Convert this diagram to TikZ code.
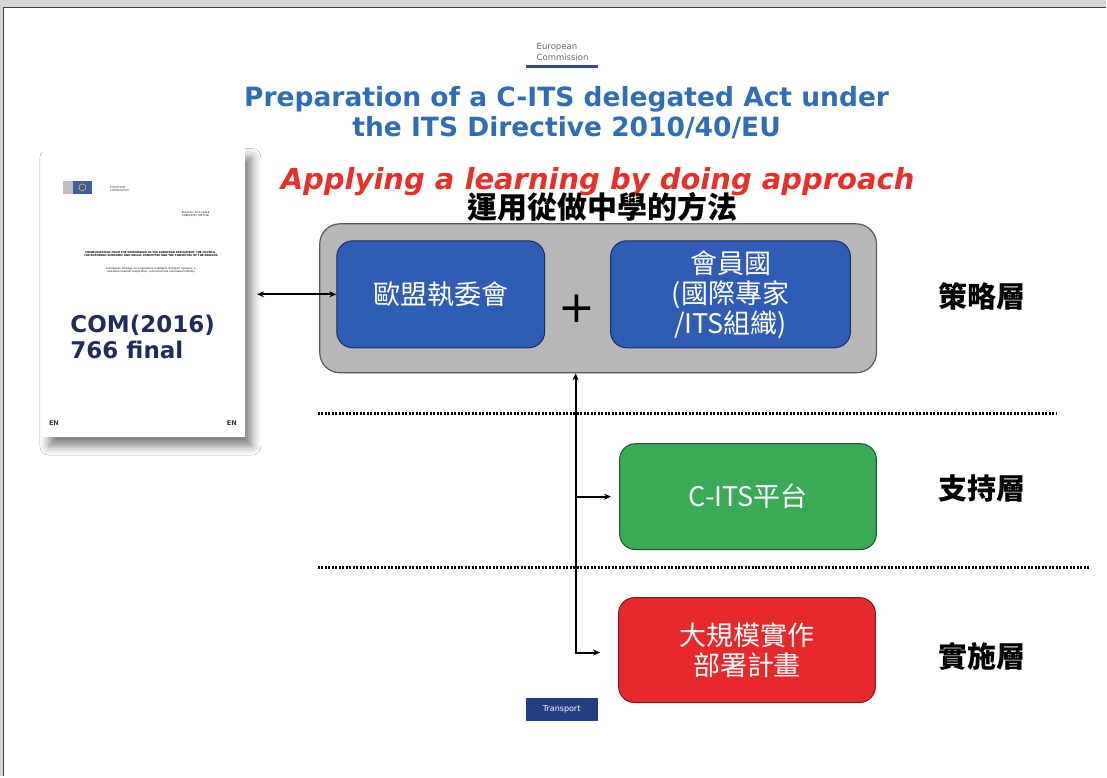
\documentclass[tikz,border=0pt]{standalone}
\usepackage{fontspec}
\setmainfont{DejaVu Sans}
\newfontfamily\cjk{Noto Sans CJK TC}
\usetikzlibrary{arrows.meta,shadows.blur}

\definecolor{framegrey}{HTML}{D9D7D2}
\definecolor{titleblue}{HTML}{2F6DB5}
\definecolor{accentred}{HTML}{E8302A}
\definecolor{boxblue}{HTML}{2F5DB6}
\definecolor{boxgreen}{HTML}{3BAA57}
\definecolor{boxred}{HTML}{E8292B}
\definecolor{navy}{HTML}{1F2D5C}
\definecolor{ecbar}{HTML}{2C4A9A}

\tikzset{
  layerbox/.style={rounded corners=16pt, line width=1pt, inner sep=0pt,
    text=white, align=center, font=\cjk\fontsize{27}{30}\selectfont},
  layerlabel/.style={font=\cjk\bfseries\fontsize{29}{32}\selectfont, text=black},
  sepline/.style={line width=2.6pt, dash pattern=on 2pt off 1.5pt},
  flow/.style={line width=1.9pt, -{Stealth[length=7pt,width=6pt]}},
  tinytext/.style={font=\fontsize{2.6}{3}\selectfont, align=center, inner sep=0pt}
}

\begin{document}
\begin{tikzpicture}[x=1pt,y=-1pt]
  % slide frame
  \fill[framegrey] (0,0) rectangle (1107,777);
  \fill[white] (4,8) rectangle (1107,777);
  \draw[line width=1.5pt, black!75] (3.5,777) -- (3.5,7.5) -- (1107,7.5);
  \useasboundingbox (0,0) rectangle (1107,777);

  % header
  \node[font=\fontsize{8.5}{10.5}\selectfont, text=black!60, align=left] (ec) at (563,52) {European\\Commission};
  \fill[ecbar] (526,65.5) rectangle (598,68.5);
  \node[font=\bfseries\fontsize{26.5}{30}\selectfont, text=titleblue, align=center] (title) at (567,113)
    {Preparation of a C-ITS delegated Act under\\the ITS Directive 2010/40/EU};
  \node[font=\bfseries\itshape\fontsize{29}{30}\selectfont, text=accentred] (motto) at (598,182)
    {Applying a learning by doing approach};
  \node[font=\cjk\bfseries\fontsize{30}{32}\selectfont] (mottozh) at (603,207) {運用從做中學的方法};

  % communication document
  \node[fill=white, minimum width=203pt, minimum height=289pt, inner sep=0pt,
        blur shadow={shadow xshift=7pt, shadow yshift=-9pt, shadow blur radius=9pt, shadow opacity=50}]
        (page) at (143.5,293) {};
  \fill[black!25] (63,181) rectangle (73,194);
  \fill[ecbar!90] (73,181) rectangle (92,194);
  \draw[yellow!80!orange, line width=0.5pt] (82.5,187.5) circle (3.5pt);
  \node[font=\fontsize{2.8}{3.2}\selectfont, align=left, anchor=west, text=black!70, inner sep=0pt] (eclogo) at (110,189) {EUROPEAN\\COMMISSION};
  \node[tinytext, align=left, anchor=west] (date) at (182,214) {Brussels, 30.11.2016\\COM(2016) 766 final};
  \node[tinytext, text width=140pt] (commtitle) at (151,254)
    {\bfseries COMMUNICATION FROM THE COMMISSION TO THE EUROPEAN PARLIAMENT, THE COUNCIL, THE EUROPEAN ECONOMIC AND SOCIAL COMMITTEE AND THE COMMITTEE OF THE REGIONS};
  \node[tinytext, text width=145pt] (subject) at (151,270)
    {A European strategy on Cooperative Intelligent Transport Systems, a milestone towards cooperative, connected and automated mobility};
  \node[font=\bfseries\fontsize{23}{26}\selectfont, text=navy, align=left, anchor=west] (com) at (67,337)
    {COM(2016)\\766 final};
  \node[font=\bfseries\fontsize{6.5}{7}\selectfont, text=black!80] (enl) at (54,423) {EN};
  \node[font=\bfseries\fontsize{6.5}{7}\selectfont, text=black!80] (enr) at (232,423) {EN};

  % strategic layer
  \node[draw=black!65, fill=black!28, rounded corners=20pt, line width=1.2pt,
        minimum width=557pt, minimum height=149pt] (strategy) at (598.5,298.5) {};
  \node[layerbox, draw=boxblue!50!black, fill=boxblue, minimum width=208pt, minimum height=107pt]
        (eu) at (441,294.5) {歐盟執委會};
  \node[layerbox, draw=boxblue!50!black, fill=boxblue, minimum width=240pt, minimum height=107pt]
        (ms) at (731,294.5) {會員國\\(國際專家\\/ITS組織)};
  \node[font=\fontsize{44}{44}\selectfont] (plus) at (577,309) {+};

  % supporting and deployment layers
  \node[layerbox, draw=boxgreen!50!black, fill=boxgreen, minimum width=257pt, minimum height=106pt]
        (cits) at (748.5,497) {C-ITS平台};
  \node[layerbox, draw=boxred!55!black, fill=boxred, minimum width=257pt, minimum height=105pt]
        (pilot) at (747.5,650.5) {大規模實作\\部署計畫};

  % layer names
  \node[layerlabel] (lstrat) at (983,297) {策略層};
  \node[layerlabel] (lsupp) at (983,489) {支持層};
  \node[layerlabel] (limpl) at (983,657) {實施層};

  % layer separators
  \coordinate (s1a) at (318,414);  \coordinate (s1b) at (1058,414);
  \coordinate (s2a) at (318,568);  \coordinate (s2b) at (1090,568);
  \draw[sepline] (s1a) -- (s1b);
  \draw[sepline] (s2a) -- (s2b);

  % connectors
  \draw[line width=1.7pt, {Stealth[length=7pt,width=6pt]}-{Stealth[length=7pt,width=6pt]}, shorten <=12pt]
        (page.east |- eu.west) -- (eu.west);
  \coordinate (trunk) at (576,653);
  \draw[flow] (trunk) -- (trunk |- strategy.south);
  \draw[flow, shorten >=8pt] (trunk |- cits.west) -- (cits.west);
  \draw[flow, line cap=round, shorten >=18pt] (trunk) -- (trunk -| pilot.west);

  % footer tag
  \node[fill=ecbar!85!black, minimum width=72pt, minimum height=23pt, inner sep=0pt, text=white,
        font=\fontsize{8}{9}\selectfont] (transport) at (562,709.5) {Transport};
\end{tikzpicture}
\end{document}
